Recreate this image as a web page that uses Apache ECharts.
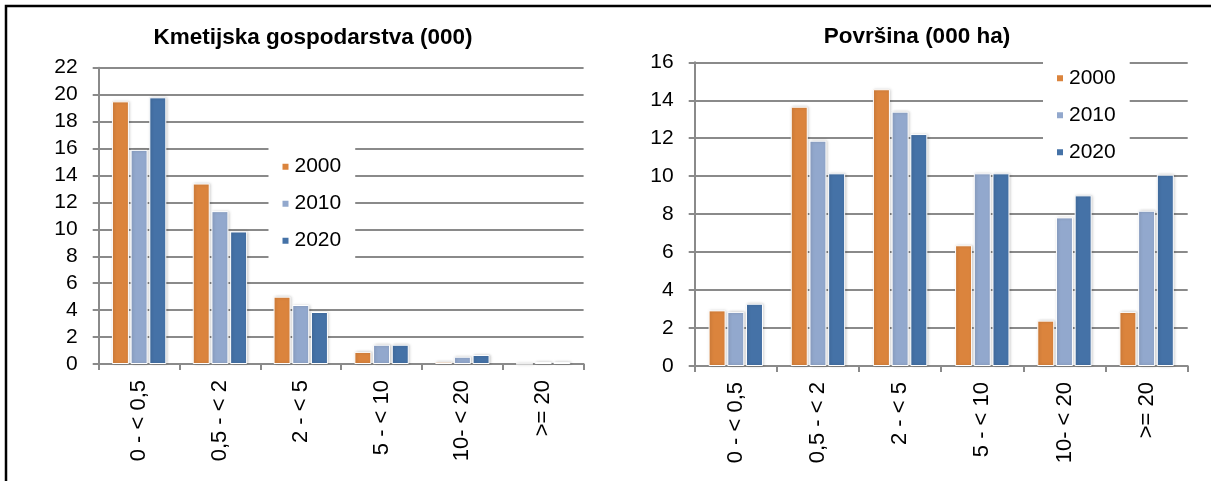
<!DOCTYPE html>
<html>
<head>
<meta charset="utf-8">
<script src="https://cdn.jsdelivr.net/npm/echarts@6/dist/echarts.min.js"></script>
<style>
html,body{margin:0;padding:0;background:#fff;}
#main{width:1211px;height:481px;}
</style>
</head>
<body>
<div id="main"></div>
<script>
// ---- data ----
const categories = ['0 - < 0,5', '0,5 - < 2', '2 - < 5', '5 - < 10', '10- < 20', '>= 20'];
const years = ['2000', '2010', '2020'];
const titleLeft = 'Kmetijska gospodarstva (000)';
const titleRight = 'Površina (000 ha)';
// Kmetijska gospodarstva (000)
const farms2000 = [19.5, 13.4, 5.0, 0.9, 0.17, 0.02];
const farms2010 = [15.9, 11.35, 4.38, 1.43, 0.54, 0.15];
const farms2020 = [19.8, 9.84, 3.86, 1.43, 0.67, 0.15];
// Površina (000 ha)
const area2000 = [2.93, 13.66, 14.58, 6.36, 2.39, 2.85];
const area2010 = [2.85, 11.87, 13.4, 10.15, 7.83, 8.18];
const area2020 = [3.28, 10.15, 12.22, 10.15, 8.99, 10.08];
const yTicksLeft = {min: 0, max: 22, interval: 2};
const yTicksRight = {min: 0, max: 16, interval: 2};

// ---- styles ----
const colors = ['#DB843D', '#92A8CD', '#4572A7'];
const FONT = "'Liberation Sans', Arial, sans-serif";
const gridGray = '#8a8a8a';

const chart = echarts.init(document.getElementById('main'), null, {renderer: 'canvas'});

function xAxis(gridIndex) {
  return {
    type: 'category', gridIndex, data: categories,
    axisLine: {show: true, lineStyle: {color: gridGray, width: 2}},
    axisTick: {show: true, length: 6, lineStyle: {color: gridGray, width: 2}},
    axisLabel: {rotate: 90, margin: 16, fontSize: 22, color: '#000', fontFamily: FONT, interval: 0},
    splitLine: {show: false}
  };
}
function yAxis(gridIndex, t) {
  return {
    type: 'value', gridIndex, min: t.min, max: t.max, interval: t.interval,
    axisLine: {show: true, lineStyle: {color: gridGray, width: 2}},
    axisTick: {show: true, length: 6, lineStyle: {color: gridGray, width: 2}},
    axisLabel: {margin: 21, fontSize: 21, color: '#000', fontFamily: FONT},
    splitLine: {show: true, lineStyle: {color: gridGray, width: 2}}
  };
}
function bars(data, idx, gi) {
  return {
    type: 'bar', name: years[idx], xAxisIndex: gi, yAxisIndex: gi, data,
    barWidth: 17, barGap: '10%',
    itemStyle: {color: colors[idx], borderColor: '#fff', borderWidth: 1,
      shadowColor: 'rgba(0,0,0,0.22)', shadowBlur: 3, shadowOffsetX: 1, shadowOffsetY: 0},
    emphasis: {disabled: true}
  };
}
function legend(left, top) {
  return {
    data: years, orient: 'vertical', left, top,
    itemWidth: 8, itemHeight: 8, itemGap: 16, icon: 'rect',
    backgroundColor: '#fff', padding: [12, 14, 12, 12],
    textStyle: {fontSize: 21, color: '#000', fontFamily: FONT, lineHeight: 21},
    selectedMode: false
  };
}

chart.setOption({
  animation: false,
  color: colors,
  title: [
    {text: titleLeft, left: 308, top: 33, textAlign: 'center', textVerticalAlign: 'middle',
     textStyle: {fontSize: 22.5, fontWeight: 'bold', color: '#000', fontFamily: FONT}},
    {text: titleRight, left: 912, top: 32, textAlign: 'center', textVerticalAlign: 'middle',
     textStyle: {fontSize: 22.5, fontWeight: 'bold', color: '#000', fontFamily: FONT}}
  ],
  grid: [
    {left: 98.7, top: 67.7, width: 484.9, height: 296.3},
    {left: 694.7, top: 62.3, width: 493, height: 303.7}
  ],
  xAxis: [xAxis(0), xAxis(1)],
  yAxis: [yAxis(0, yTicksLeft), yAxis(1, yTicksRight)],
  legend: [legend(268.5, 144.2), legend(1043, 55.8)],
  series: [
    bars(farms2000, 0, 0), bars(farms2010, 1, 0), bars(farms2020, 2, 0),
    bars(area2000, 0, 1), bars(area2010, 1, 1), bars(area2020, 2, 1)
  ],
  graphic: [
    {type: 'rect', shape: {x: 6, y: 6, width: 1400, height: 600}, silent: true, z: 100,
     style: {fill: 'none', stroke: '#000', lineWidth: 2.5}}
  ]
});
</script>
</body>
</html>
